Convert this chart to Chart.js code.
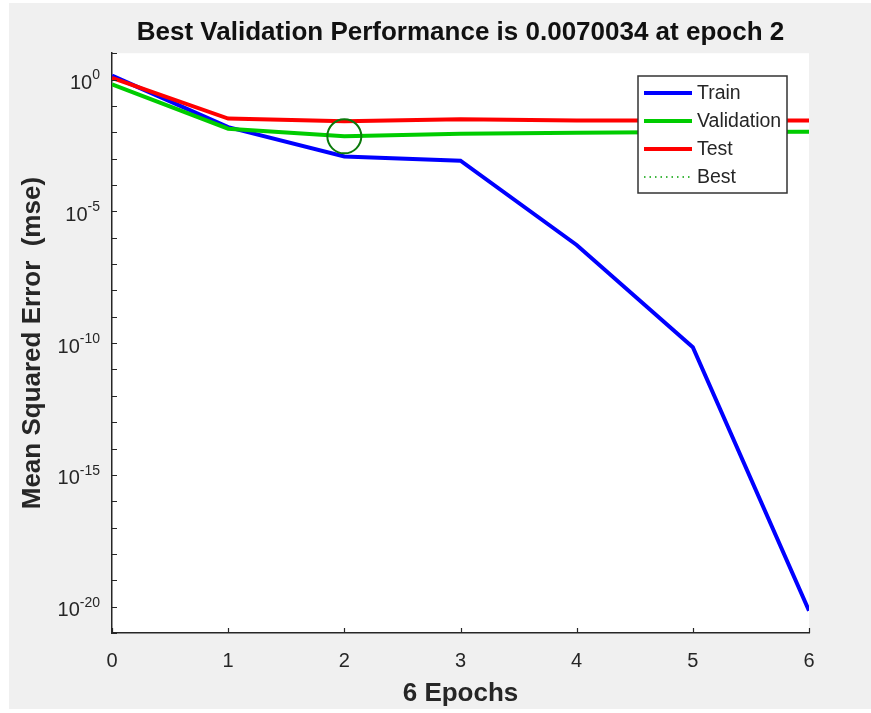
<!DOCTYPE html>
<html>
<head>
<meta charset="utf-8">
<title>Best Validation Performance</title>
<script src="https://cdn.jsdelivr.net/npm/chart.js@4.4.1/dist/chart.umd.min.js"></script>
<style>
  html, body { margin: 0; padding: 0; background: #ffffff; }
  #wrap { width: 871px; height: 713px; }
</style>
</head>
<body>
<div id="wrap"><canvas id="perf" width="871" height="713"></canvas></div>
<script>
// values (log scale)
const epochs = [0, 1, 2, 3, 4, 5, 6];
const trainMse = [1.4, 0.0156, 0.0012, 0.00083, 5.3e-7, 7e-11, 7e-21];
const validationMse = [0.65, 0.0137, 0.0070034, 0.0087, 0.0095, 0.0102, 0.0105];
const testMse = [1.15, 0.033, 0.026, 0.031, 0.028, 0.028, 0.028];
const bestEpoch = 2;
const bestPerf = 0.0070034;

const xTicks = [0, 1, 2, 3, 4, 5, 6];
const yDecades = [1, 0, -1, -2, -3, -4, -5, -6, -7, -8, -9, -10, -11, -12, -13, -14, -15, -16, -17, -18, -19, -20, -21];
const yLabelExps = [0, -5, -10, -15, -20];

const FONT = "'Liberation Sans', Arial, Helvetica, sans-serif";
const AXIS_COLOR = "#262626";

function pts(vals) {
  return epochs.map((e, i) => ({ x: e, y: vals[i] }));
}

const matlabLook = {
  id: "matlabLook",
  beforeDraw(chart) {
    const { ctx, chartArea: a } = chart;
    ctx.save();
    ctx.fillStyle = "#ffffff";
    ctx.fillRect(0, 0, chart.width, chart.height);
    ctx.fillStyle = "#f0f0f0";
    ctx.fillRect(9, 3, chart.width - 9, 706);
    ctx.fillStyle = "#ffffff";
    ctx.fillRect(a.left, a.top, a.right - a.left, a.bottom - a.top);
    ctx.restore();
  },
  afterDraw(chart) {
    const { ctx, chartArea: a } = chart;
    const xs = chart.scales.x;
    const ys = chart.scales.y;
    ctx.save();

    // inward tick marks
    ctx.strokeStyle = AXIS_COLOR;
    ctx.lineWidth = 1.2;
    ctx.beginPath();
    xTicks.forEach((v) => {
      const px = Math.round(xs.getPixelForValue(v)) + 0.5;
      ctx.moveTo(px, a.bottom);
      ctx.lineTo(px, a.bottom - 5);
    });
    yDecades.forEach((e) => {
      const py = Math.round(ys.getPixelForValue(Math.pow(10, e))) + 0.5;
      ctx.moveTo(a.left, py);
      ctx.lineTo(a.left + 5, py);
    });
    ctx.stroke();

    // y tick labels as 10^n
    ctx.fillStyle = AXIS_COLOR;
    ctx.textBaseline = "middle";
    yLabelExps.forEach((e) => {
      const py = ys.getPixelForValue(Math.pow(10, e));
      const expTxt = String(e);
      ctx.font = "14px " + FONT;
      const ew = ctx.measureText(expTxt).width;
      const right = a.left - 12;
      ctx.textAlign = "left";
      ctx.fillText(expTxt, right - ew, py - 4);
      ctx.font = "20px " + FONT;
      ctx.textAlign = "right";
      ctx.fillText("10", right - ew, py + 4);
    });

    // legend box
    const lx = 638, ly = 76, lw = 149, lh = 117;
    ctx.fillStyle = "#ffffff";
    ctx.fillRect(lx, ly, lw, lh);
    ctx.strokeStyle = "#333333";
    ctx.lineWidth = 1.5;
    ctx.strokeRect(lx, ly, lw, lh);
    ctx.font = "19.5px " + FONT;
    ctx.textAlign = "left";
    ctx.textBaseline = "middle";
    const order = [0, 1, 2, 3];
    order.forEach((di, row) => {
      const ds = chart.data.datasets[di];
      const cy = ly + 17 + row * 28;
      ctx.save();
      ctx.strokeStyle = ds.borderColor;
      if (ds.legendDash) {
        ctx.lineWidth = 1.5;
        ctx.setLineDash(ds.legendDash);
      } else {
        ctx.lineWidth = 4;
      }
      ctx.beginPath();
      ctx.moveTo(lx + 6, cy);
      ctx.lineTo(lx + 54, cy);
      ctx.stroke();
      ctx.restore();
      ctx.fillStyle = "#262626";
      ctx.fillText(ds.label, lx + 59, cy + 1);
    });
    ctx.restore();
  }
};

new Chart(document.getElementById("perf"), {
  type: "line",
  data: {
    datasets: [
      {
        label: "Train",
        data: pts(trainMse),
        borderColor: "#0000ff",
        borderWidth: 4,
        pointRadius: 0,
        order: 3,
      },
      {
        label: "Validation",
        data: pts(validationMse),
        borderColor: "#00cc00",
        borderWidth: 4,
        pointRadius: 0,
        order: 2,
      },
      {
        label: "Test",
        data: pts(testMse),
        borderColor: "#ff0000",
        borderWidth: 4,
        pointRadius: 0,
        order: 1,
      },
      {
        label: "Best",
        data: [{ x: bestEpoch, y: bestPerf }],
        borderColor: "#00a000",
        legendDash: [1.5, 4],
        showLine: false,
        pointStyle: "circle",
        pointRadius: 17,
        pointBorderWidth: 2,
        pointBorderColor: "#0b7a0b",
        pointBackgroundColor: "rgba(0,0,0,0)",
        order: 0,
      },
    ],
  },
  options: {
    responsive: false,
    animation: false,
    devicePixelRatio: 1,
    layout: { padding: { right: 62 } },
    plugins: {
      legend: { display: false },
      tooltip: { enabled: false },
      title: {
        display: true,
        fullSize: false,
        text: "Best Validation Performance is 0.0070034 at epoch 2",
        color: "#111111",
        font: { family: FONT, size: 26, weight: "bold" },
        padding: { top: 17, bottom: 5 },
      },
    },
    scales: {
      x: {
        type: "linear",
        min: 0,
        max: 6,
        afterBuildTicks: (s) => { s.ticks = xTicks.map((v) => ({ value: v })); },
        afterFit: (s) => { s.height = 80; },
        grid: { display: false, drawTicks: false },
        border: { display: true, color: AXIS_COLOR, width: 1.5 },
        ticks: {
          color: AXIS_COLOR,
          padding: 16,
          maxRotation: 0,
          font: { family: FONT, size: 20 },
        },
        title: {
          display: true,
          text: "6 Epochs",
          color: AXIS_COLOR,
          font: { family: FONT, size: 26, weight: "bold" },
          padding: { top: 0, bottom: 4 },
        },
      },
      y: {
        type: "logarithmic",
        min: 1e-21,
        max: 10,
        afterBuildTicks: (s) => { s.ticks = yDecades.map((e) => ({ value: Math.pow(10, e) })); },
        afterFit: (s) => { s.width = 112; },
        grid: { display: false, drawTicks: false },
        border: { display: true, color: AXIS_COLOR, width: 1.5 },
        ticks: { display: false },
        title: {
          display: true,
          text: "Mean Squared Error  (mse)",
          color: AXIS_COLOR,
          font: { family: FONT, size: 26, weight: "bold" },
          padding: { top: 17, bottom: 0 },
        },
      },
    },
  },
  plugins: [matlabLook],
});
</script>
</body>
</html>
